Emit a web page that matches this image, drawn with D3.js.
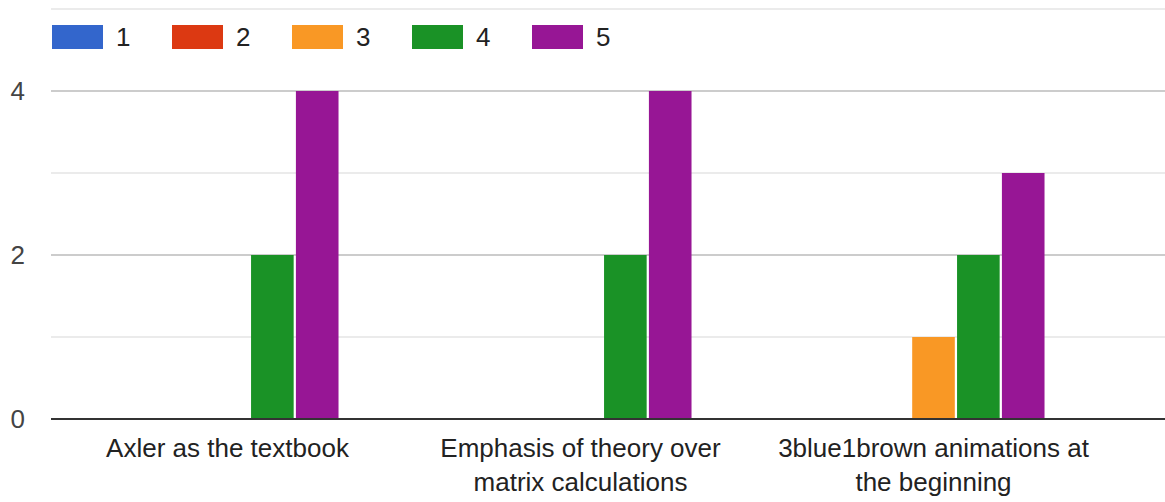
<!DOCTYPE html>
<html>
<head>
<meta charset="utf-8">
<script src="https://cdn.jsdelivr.net/npm/d3@7"></script>
<style>
  html, body { margin: 0; padding: 0; background: #fff; }
  svg { display: block; font-family: "Liberation Sans", Arial, sans-serif; }
</style>
</head>
<body>
<svg id="chart" width="1165" height="502"></svg>
<script>
// Survey responses: how many people gave each rating (1–5) per course aspect
const categories = [
  "Axler as the textbook",
  "Emphasis of theory over matrix calculations",
  "3blue1brown animations at the beginning"
];
const ratings = ["1", "2", "3", "4", "5"];
const rating1 = [0, 0, 0];
const rating2 = [0, 0, 0];
const rating3 = [0, 0, 1];
const rating4 = [2, 2, 2];
const rating5 = [4, 4, 3];
const yTicks = [0, 2, 4];
const yGrid = [0, 1, 2, 3, 4, 5];

const seriesValues = [rating1, rating2, rating3, rating4, rating5];
const colors = ["#3366cc", "#dc3912", "#f99825", "#1a9226", "#971695"];

const svg = d3.select("#chart");
const plotLeft = 51, plotRight = 1165, bandRight = 1110;
const plotTop = 9, plotBottom = 419;
const fontSize = 26;

const y = d3.scaleLinear().domain([0, 5]).range([plotBottom, plotTop]);
const x0 = d3.scaleBand().domain(categories).range([plotLeft, bandRight])
  .paddingInner(0.371).paddingOuter(0.1855);
const x1 = d3.scaleBand().domain(ratings).range([0, x0.bandwidth()]).paddingInner(0.05);
const color = d3.scaleOrdinal().domain(ratings).range(colors);

// Gridlines: labelled values darker, in-between values lighter
svg.append("g").selectAll("line").data(yGrid.filter(v => v !== 0)).join("line")
  .attr("x1", plotLeft).attr("x2", plotRight)
  .attr("y1", d => y(d)).attr("y2", d => y(d))
  .attr("stroke", d => yTicks.includes(d) ? "#cccccc" : "#ebebeb")
  .attr("stroke-width", 2);

// Bars
const rows = categories.map((c, i) => ({
  category: c,
  values: ratings.map((r, j) => ({ rating: r, value: seriesValues[j][i] }))
}));

svg.append("g").selectAll("g").data(rows).join("g")
  .attr("transform", d => `translate(${x0(d.category)},0)`)
  .selectAll("rect").data(d => d.values.filter(v => v.value > 0)).join("rect")
  .attr("x", d => x1(d.rating))
  .attr("width", x1.bandwidth())
  .attr("y", d => y(d.value))
  .attr("height", d => y(0) - y(d.value))
  .attr("fill", d => color(d.rating));

// Baseline
svg.append("line")
  .attr("x1", plotLeft).attr("x2", plotRight)
  .attr("y1", y(0)).attr("y2", y(0))
  .attr("stroke", "#333").attr("stroke-width", 2);

// Y axis labels
const yAxis = d3.axisLeft(y).tickValues(yTicks).tickFormat(d3.format("d")).tickSize(0).tickPadding(0);
const yg = svg.append("g").attr("transform", "translate(25,0)").call(yAxis);
yg.select(".domain").remove();
yg.selectAll("text")
  .attr("font-size", fontSize).attr("fill", "#444")
  .attr("font-family", "'Liberation Sans', Arial, sans-serif");

// X axis category labels, wrapped to fit under each group
const xAxis = d3.axisBottom(x0).tickSize(0).tickPadding(0).tickFormat("");
const xg = svg.append("g").attr("transform", `translate(0,${plotBottom})`).call(xAxis);
xg.select(".domain").remove();
const maxWidth = 345, lineHeight = 34;
xg.selectAll(".tick").each(function(d) {
  const t = d3.select(this).append("text")
    .attr("text-anchor", "middle")
    .attr("font-size", fontSize).attr("fill", "#222")
    .attr("font-family", "'Liberation Sans', Arial, sans-serif");
  const words = d.split(" ");
  let lines = [], cur = [];
  const probe = t.append("tspan");
  words.forEach(w => {
    const test = cur.concat(w).join(" ");
    probe.text(test);
    if (probe.node().getComputedTextLength() > maxWidth && cur.length) {
      lines.push(cur.join(" "));
      cur = [w];
    } else {
      cur.push(w);
    }
  });
  lines.push(cur.join(" "));
  probe.remove();
  lines.forEach((ln, i) => {
    t.append("tspan").attr("x", 0).attr("y", 38 + i * lineHeight).text(ln);
  });
});

// Legend
const legend = svg.append("g").selectAll("g").data(ratings).join("g")
  .attr("transform", (d, i) => `translate(${52 + i * 120},25)`);
legend.append("rect").attr("width", 51).attr("height", 24).attr("fill", d => color(d));
legend.append("text")
  .attr("x", 64).attr("y", 12).attr("dy", "0.35em")
  .attr("font-size", fontSize).attr("fill", "#222")
  .text(d => d);
</script>
</body>
</html>
